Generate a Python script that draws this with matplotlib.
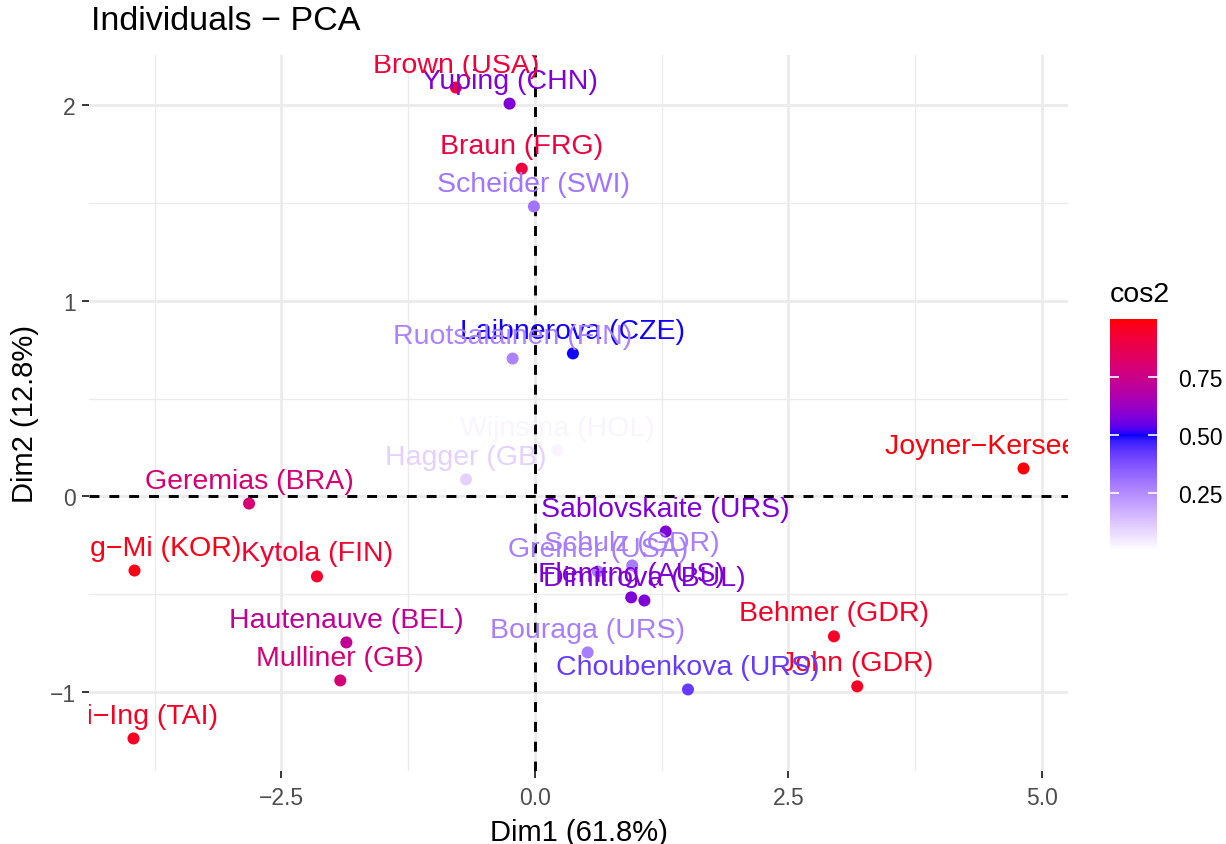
import numpy as np
import matplotlib
matplotlib.use("Agg")
import matplotlib.pyplot as plt
from matplotlib.colors import ListedColormap, to_rgb

plt.rcParams['font.family'] = ['Liberation Sans', 'DejaVu Sans']

# heptathlon individuals on the first two principal components
names = ["Joyner-Kersee (USA)", "John (GDR)", "Behmer (GDR)", "Sablovskaite (URS)",
         "Choubenkova (URS)", "Schulz (GDR)", "Fleming (AUS)", "Greiner (USA)",
         "Laibnerova (CZE)", "Bouraga (URS)", "Wijnsma (HOL)", "Dimitrova (BUL)",
         "Scheider (SWI)", "Braun (FRG)", "Ruotsalainen (FIN)", "Yuping (CHN)",
         "Hagger (GB)", "Brown (USA)", "Mulliner (GB)", "Hautenauve (BEL)",
         "Kytola (FIN)", "Geremias (BRA)", "Hui-Ing (TAI)", "Jeong-Mi (KOR)"]
dim1 = [4.82, 3.18, 2.95, 1.29, 1.51, 0.96, 0.95, 0.62,
        0.375, 0.52, 0.22, 1.08, -0.01, -0.13, -0.22, -0.25,
        -0.68, -0.78, -1.92, -1.86, -2.15, -2.82, -3.96, -3.95]
dim2 = [0.143, -0.969, -0.714, -0.179, -0.985, -0.352, -0.515, -0.383,
        0.73, -0.796, 0.235, -0.531, 1.48, 1.673, 0.704, 2.005,
        0.087, 2.087, -0.939, -0.745, -0.408, -0.036, -1.235, -0.378]
cos2 = [0.99, 0.96, 0.95, 0.58, 0.42, 0.28, 0.58, 0.28,
        0.50, 0.28, 0.025, 0.58, 0.30, 0.91, 0.27, 0.58,
        0.10, 0.92, 0.79, 0.72, 0.94, 0.80, 0.96, 0.98]

x_ticks = [-2.5, 0.0, 2.5, 5.0]
y_ticks = [-1, 0, 1, 2]
cbar_ticks = [0.25, 0.50, 0.75]

MINUS = "\u2212"


def fmt(v, d):
    return (f"{v:.{d}f}").replace("-", MINUS)


# white -> blue -> red gradient interpolated in CIELAB
M = np.array([[0.4124, 0.3576, 0.1805],
              [0.2126, 0.7152, 0.0722],
              [0.0193, 0.1192, 0.9505]])
WHITE = np.array([0.95047, 1.0, 1.08883])


def to_lab(rgb):
    c = np.asarray(rgb, float)
    lin = np.where(c <= 0.04045, c / 12.92, ((c + 0.055) / 1.055) ** 2.4)
    xyz = M @ lin / WHITE
    f = np.where(xyz > 0.008856, np.cbrt(xyz), 7.787 * xyz + 16 / 116)
    return np.array([116 * f[1] - 16, 500 * (f[0] - f[1]), 200 * (f[1] - f[2])])


def from_lab(lab):
    L, a, b = lab
    fy = (L + 16) / 116
    f = np.array([fy + a / 500, fy, fy - b / 200])
    xyz = np.where(f ** 3 > 0.008856, f ** 3, (f - 16 / 116) / 7.787) * WHITE
    lin = np.linalg.solve(M, xyz)
    lin = np.clip(lin, 0, 1)
    c = np.where(lin <= 0.0031308, 12.92 * lin, 1.055 * lin ** (1 / 2.4) - 0.055)
    return np.clip(c, 0, 1)


stops = [to_lab(to_rgb(c)) for c in ("white", "blue", "red")]
ramp = []
for t in np.linspace(0, 1, 256):
    seg = min(int(t * 2), 1)
    u = t * 2 - seg
    ramp.append(from_lab(stops[seg] * (1 - u) + stops[seg + 1] * u))
cmap = ListedColormap(ramp)
vmin, vmax = 0.0, 1.0

fig = plt.figure(figsize=(12.26, 8.45), dpi=100)
ax = fig.add_axes([89 / 1226, 1 - 772 / 845, (1068 - 89) / 1226, (772 - 56) / 845])

for s in ax.spines.values():
    s.set_visible(False)

# data range expanded by 5 %
xr = max(dim1) - min(dim1)
yr = max(dim2) - min(dim2)
ax.set_xlim(min(dim1) - 0.05 * xr, max(dim1) + 0.05 * xr)
ax.set_ylim(min(dim2) - 0.05 * yr, max(dim2) + 0.05 * yr)

ax.set_xticks(x_ticks, [fmt(v, 1) for v in x_ticks])
ax.set_yticks(y_ticks, [fmt(v, 0) for v in y_ticks])
ax.set_xticks([-3.75, -1.25, 1.25, 3.75], minor=True)
ax.set_yticks([-0.5, 0.5, 1.5], minor=True)
ax.grid(True, which="major", color="#EBEBEB", lw=2.0)
ax.grid(True, which="minor", color="#EBEBEB", lw=1.0)
ax.set_axisbelow(True)
ax.tick_params(which="major", length=5, width=1.1, color="black",
               labelsize=16.5, labelcolor="#4D4D4D")
ax.tick_params(axis="x", pad=6)
ax.tick_params(axis="y", pad=4.5)
ax.tick_params(which="minor", length=0)

ax.axhline(0, color="black", lw=2.1, ls=(0, (3.4, 3.4)), zorder=1.5)
ax.axvline(0, color="black", lw=2.1, ls=(0, (3.4, 3.4)), zorder=1.5)

sc = ax.scatter(dim1, dim2, c=cos2, cmap=cmap, vmin=vmin, vmax=vmax,
                s=75, linewidths=0, zorder=3)

for nm, x, y, c in zip(names, dim1, dim2, cos2):
    ax.annotate(nm.replace("-", MINUS), (x, y), xytext=(0, 16.5),
                textcoords="offset points", ha="center", va="center",
                fontsize=20.5, color=cmap((c - vmin) / (vmax - vmin)),
                annotation_clip=False, clip_on=True, zorder=4)

ax.set_xlabel("Dim1 (61.8%)", fontsize=21, labelpad=6)
ax.set_ylabel("Dim2 (12.8%)", fontsize=21, labelpad=8)

fig.text(91 / 1226, 1 - 22 / 845, "Individuals " + MINUS + " PCA",
         fontsize=24.5, ha="left", va="center")

# colour bar legend
cax = fig.add_axes([1110 / 1226, 1 - 552 / 845, 47 / 1226, 232 / 845])
cb = fig.colorbar(sc, cax=cax)
cb.outline.set_visible(False)
cb.set_ticks(cbar_ticks, labels=[f"{t:.2f}" for t in cbar_ticks])
cax.tick_params(length=0, pad=15, labelsize=16.5, labelcolor="black")
cax.hlines(cbar_ticks, 0, 0.2, color="white", lw=1.2, transform=cax.get_yaxis_transform())
cax.hlines(cbar_ticks, 0.8, 1.0, color="white", lw=1.2, transform=cax.get_yaxis_transform())
fig.text(1110 / 1226, 1 - 295 / 845, "cos2", fontsize=20.5, ha="left", va="center")

fig.savefig("out.png", dpi=100)
